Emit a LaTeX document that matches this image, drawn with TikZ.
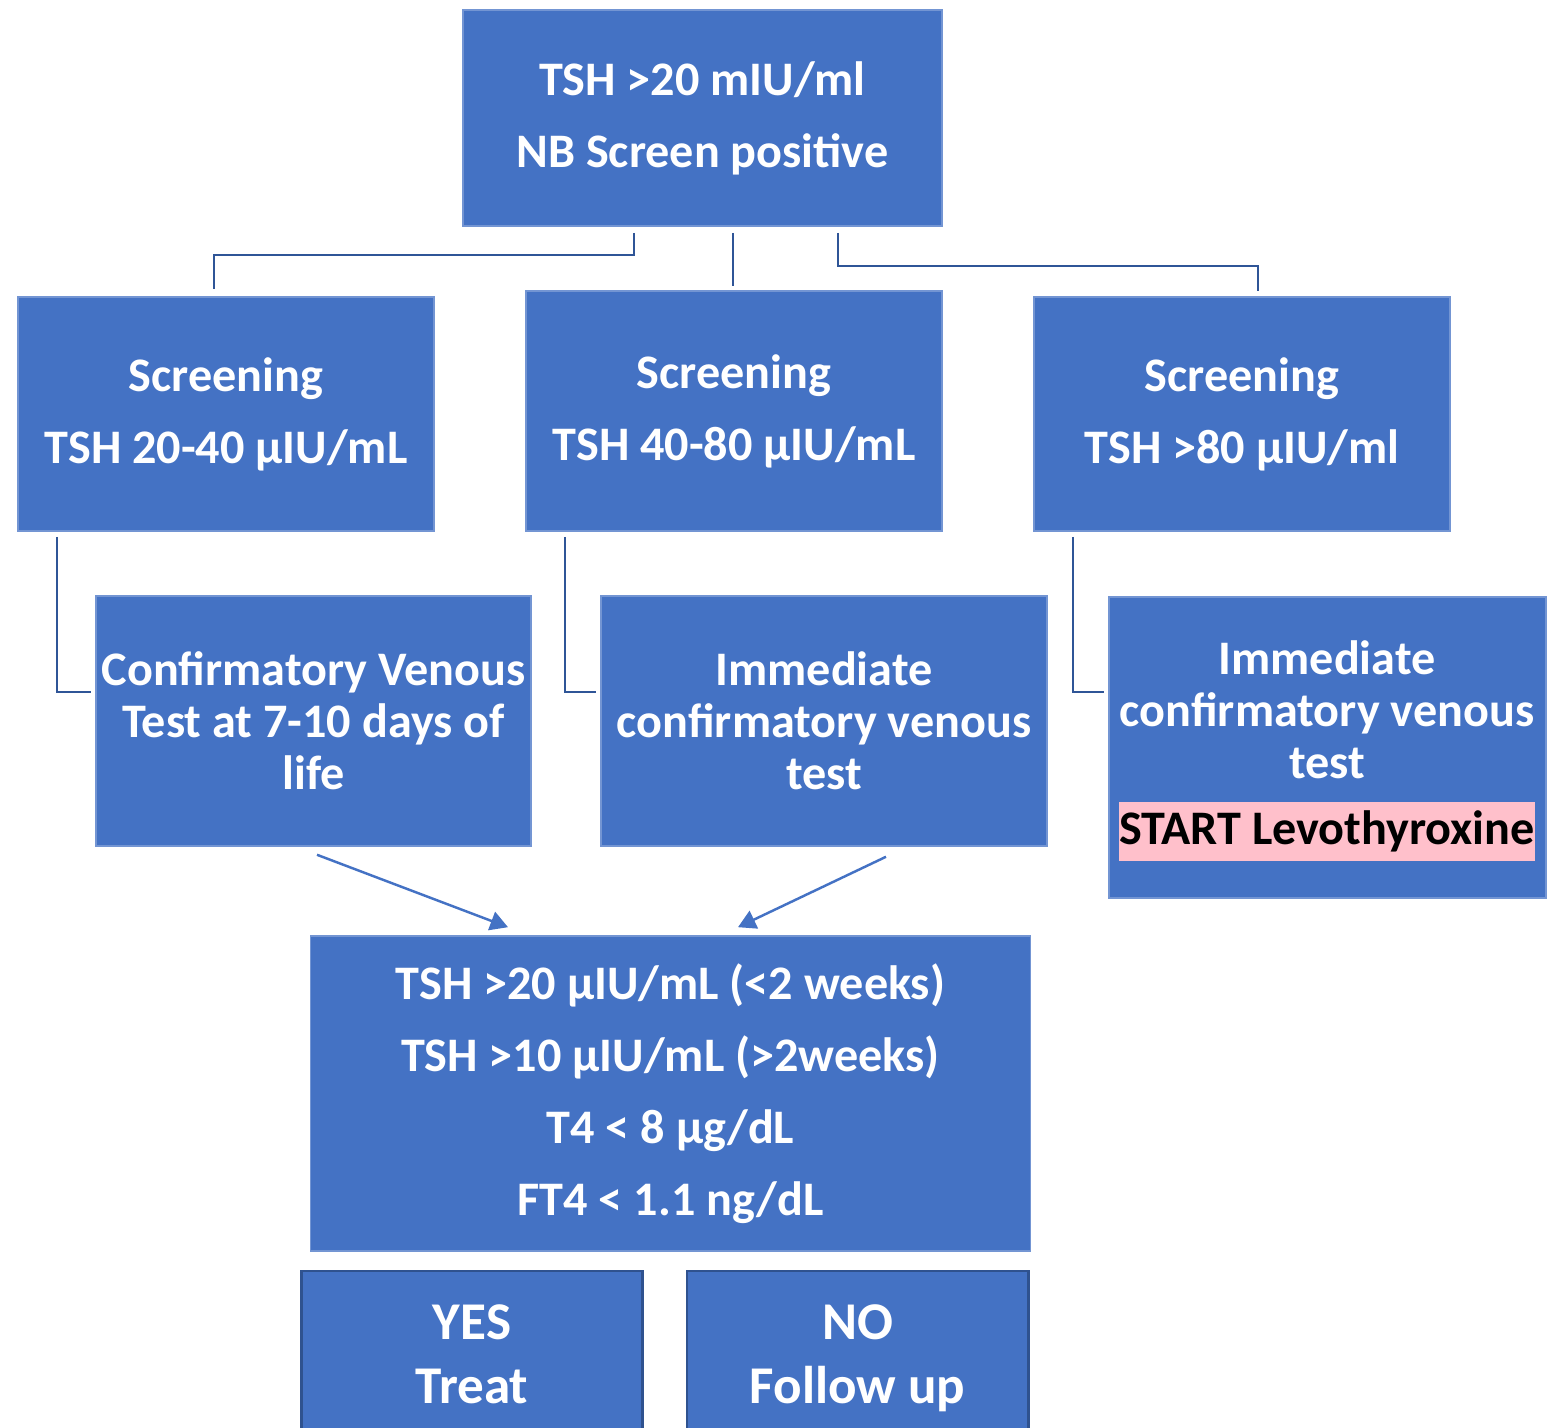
\documentclass[tikz,border=0pt]{standalone}
\usepackage{fontspec}
\setmainfont{Carlito}
\usetikzlibrary{arrows.meta,calc}
\definecolor{boxblue}{HTML}{4472C4}
\definecolor{boxedge}{HTML}{2F528F}
\definecolor{linkblue}{HTML}{2F5597}
\definecolor{hilite}{HTML}{FFC0CB}

\begin{document}
\begin{tikzpicture}[x=0.01cm,y=-0.01cm,
	box/.style={fill=boxblue,draw=boxblue!75!white,line width=0.4pt,text=white,
		font=\bfseries\fontsize{13.7}{20.5}\selectfont,align=center,inner sep=0pt},
	tightbox/.style={box,font=\bfseries\fontsize{13.7}{14.8}\selectfont},
	answer/.style={box,draw=boxedge,line width=0.8pt,font=\bfseries\fontsize{15.1}{18.2}\selectfont},
	elbow/.style={draw=linkblue,line width=0.6pt},
	link/.style={draw=boxblue,line width=0.7pt,-{Triangle[length=5pt,width=5.5pt]}}]
	\clip (0,0) rectangle (1560,1428);
	% newborn screen result
	\node[box,minimum width=4.79cm,minimum height=2.16cm] (nbscreen) at (702.5,118) {TSH >20 mIU/ml\\NB Screen positive};
	% screening ranges
	\node[box,minimum width=4.16cm,minimum height=2.34cm] (screen1) at (226,414) {Screening\\TSH 20-40 µIU/mL};
	\node[box,minimum width=4.16cm,minimum height=2.40cm] (screen2) at (734,411) {Screening\\TSH 40-80 µIU/mL};
	\node[box,minimum width=4.16cm,minimum height=2.34cm] (screen3) at (1242,414) {Screening\\TSH >80 µIU/ml};
	% venous tests
	\node[tightbox,minimum width=4.35cm,minimum height=2.50cm] (venous1) at (313.5,721) {Confirmatory Venous\\Test at 7-10 days of\\life};
	\node[tightbox,minimum width=4.46cm,minimum height=2.50cm] (venous2) at (824,721) {Immediate\\confirmatory venous\\test};
	\node[tightbox,minimum width=4.37cm,minimum height=3.01cm] (venous3) at (1327.5,747.5) {};
	\node[tightbox,fill=none,draw=none] (venous3txt) at (1327,710) {Immediate\\confirmatory venous\\test};
	\node[tightbox,fill=hilite,draw=none,text=black,minimum width=4.14cm,minimum height=0.59cm] (levo) at (1327,831.5) {START Levothyroxine};
	% confirmation criteria
	\node[box,minimum width=7.19cm,minimum height=3.15cm] (criteria) at (670.5,1093.5) {TSH >20 µIU/mL (<2 weeks)\\TSH >10 µIU/mL (>2weeks)\\T4 < 8 µg/dL\\FT4 < 1.1 ng/dL};
	\node[answer,minimum width=3.40cm,minimum height=1.74cm] (treat) at (472,1358) {YES\\Treat\vphantom{p}};
	\node[answer,minimum width=3.41cm,minimum height=1.74cm] (follow) at (857.5,1358) {NO\\Follow up};

	% connectors
	\draw[elbow] ($(nbscreen.south)+(-68.5,6)$) -- ++(0,22) -| ($(screen1.north)+(-12,-7)$);
	\draw[elbow] ($(nbscreen.south)+(30.5,6)$) -- ($(screen2.north)+(-1,-4)$);
	\draw[elbow] ($(nbscreen.south)+(135.5,6)$) -- ++(0,33) -| ($(screen3.north)+(16,-5)$);
	\draw[elbow] ($(screen1.south west)+(40,5)$) |- ($(venous1.west)+(-4,-29)$);
	\draw[elbow] ($(screen2.south west)+(40,5)$) |- ($(venous2.west)+(-4,-29)$);
	\draw[elbow] ($(screen3.south west)+(40,5)$) |- ($(venous3.west)+(-4,-55.5)$);
	\draw[link] ($(venous1.south)+(3.5,8)$) -- ($(criteria.north)+(-162.5,-8)$);
	\draw[link] ($(venous2.south)+(62,10)$) -- ($(criteria.north)+(67.5,-8)$);
\end{tikzpicture}
\end{document}
